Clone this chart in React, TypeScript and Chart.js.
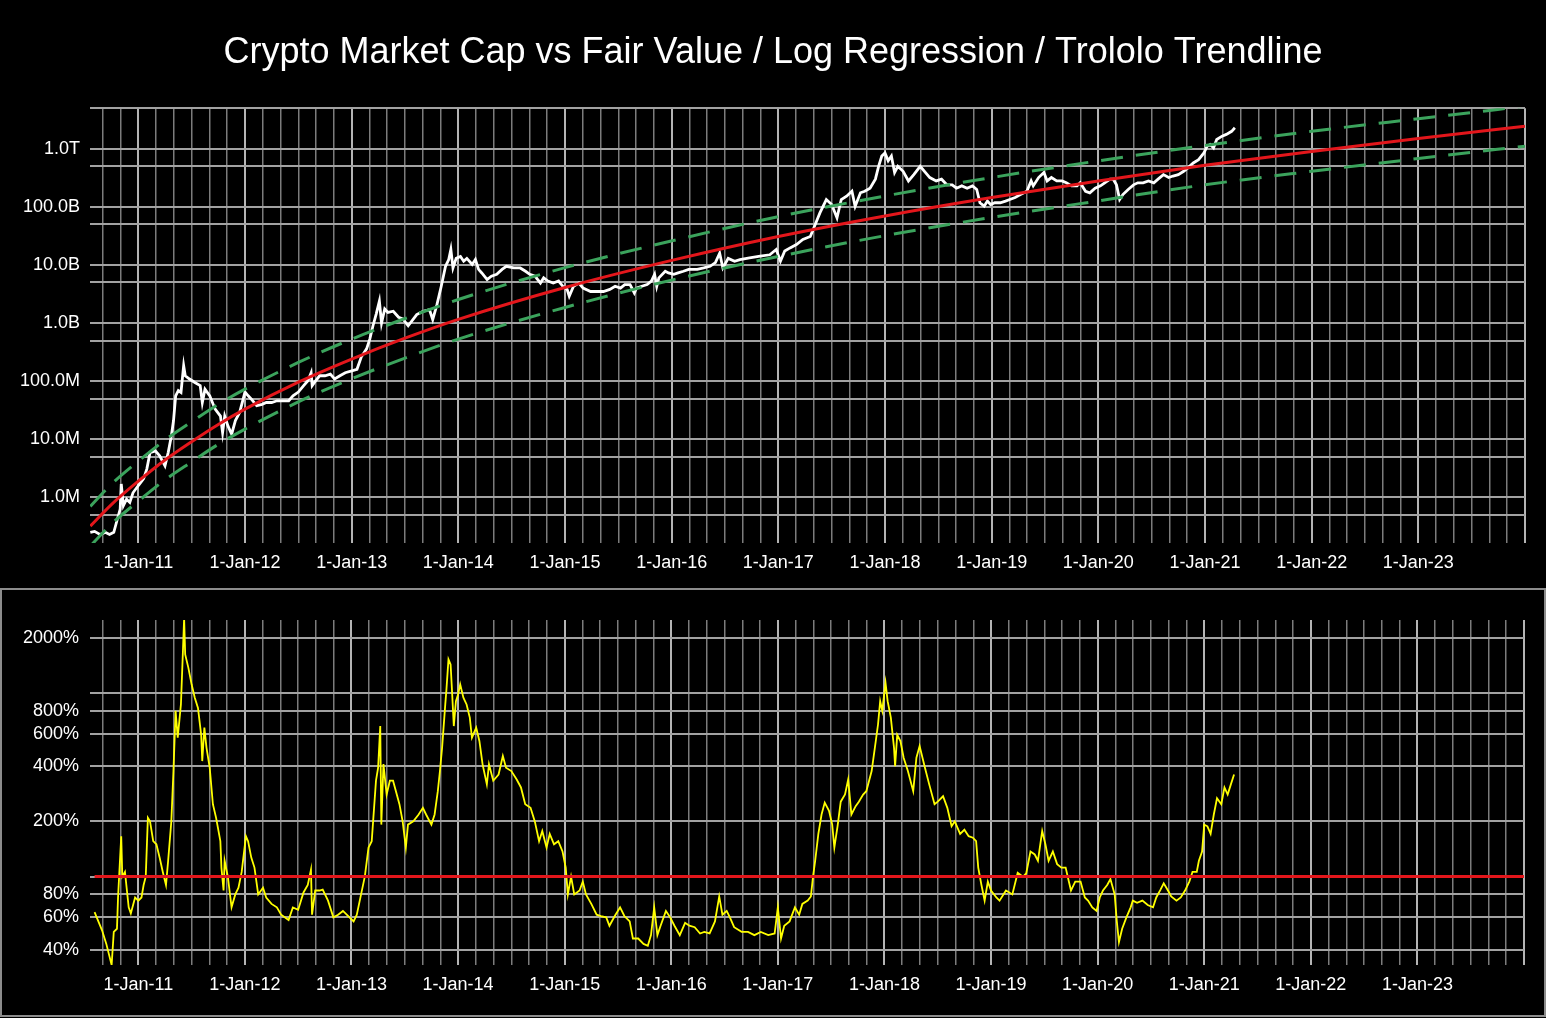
import { useEffect, useRef } from 'react';
import { Chart, registerables } from 'chart.js';

Chart.register(...registerables);

// x values are decimal years (2013.5 = start of July 2013)
const X_MIN = 2010.547;
const X_MAX = 2024;

// total crypto market cap, USD
const marketCap: [number, number][] = [
  [2010.55, 2.5e5], [2010.59, 2.6e5], [2010.64, 2.3e5], [2010.69, 2.5e5], [2010.73, 2.3e5],
  [2010.77, 2.5e5], [2010.8, 4.0e5], [2010.83, 6.3e5], [2010.84, 1.7e6], [2010.86, 7.2e5],
  [2010.89, 9.3e5], [2010.92, 8.2e5], [2010.95, 1.2e6], [2011.0, 1.6e6], [2011.05, 2.1e6],
  [2011.08, 3.1e6], [2011.11, 5.9e6], [2011.16, 6.3e6], [2011.2, 5.2e6], [2011.25, 3.5e6],
  [2011.28, 5.9e6], [2011.31, 1.15e7], [2011.33, 2.1e7], [2011.35, 5.6e7], [2011.375, 6.9e7],
  [2011.4, 6.4e7], [2011.425, 1.85e8], [2011.44, 1.24e8], [2011.48, 1.09e8], [2011.53, 9.5e7],
  [2011.58, 8.4e7], [2011.6, 4.3e7], [2011.625, 7.3e7], [2011.67, 5.6e7], [2011.72, 3.3e7],
  [2011.77, 2.5e7], [2011.79, 1.3e7], [2011.81, 2.5e7], [2011.84, 1.7e7], [2011.875, 1.23e7],
  [2011.91, 2.1e7], [2011.95, 2.9e7], [2012.0, 6.5e7], [2012.03, 5.6e7], [2012.06, 4.9e7],
  [2012.11, 3.8e7], [2012.16, 4.0e7], [2012.2, 4.3e7], [2012.25, 4.3e7], [2012.3, 4.6e7],
  [2012.34, 4.6e7], [2012.41, 4.6e7], [2012.45, 5.6e7], [2012.5, 6.5e7], [2012.55, 8.4e7],
  [2012.59, 1.02e8], [2012.62, 1.4e8], [2012.63, 8.4e7], [2012.66, 1.0e8], [2012.7, 1.24e8],
  [2012.75, 1.24e8], [2012.8, 1.32e8], [2012.84, 1.09e8], [2012.89, 1.24e8], [2012.94, 1.4e8],
  [2013.0, 1.5e8], [2013.05, 1.6e8], [2013.09, 2.6e8], [2013.14, 3.6e8], [2013.17, 5.3e8],
  [2013.2, 9.0e8], [2013.23, 1.43e9], [2013.26, 2.4e9], [2013.28, 1.0e9], [2013.31, 1.75e9],
  [2013.34, 1.53e9], [2013.39, 1.6e9], [2013.44, 1.26e9], [2013.48, 1.18e9], [2013.53, 9.0e8],
  [2013.61, 1.4e9], [2013.67, 1.6e9], [2013.73, 1.7e9], [2013.76, 1.15e9], [2013.8, 2.1e9],
  [2013.84, 4.3e9], [2013.88, 9.5e9], [2013.91, 1.24e10], [2013.93, 1.85e10], [2013.95, 8.9e9],
  [2013.98, 1.3e10], [2014.02, 1.4e10], [2014.05, 1.16e10], [2014.08, 1.3e10], [2014.13, 1.02e10],
  [2014.16, 1.24e10], [2014.19, 8.4e9], [2014.22, 7.3e9], [2014.27, 5.6e9], [2014.31, 6.4e9],
  [2014.36, 6.9e9], [2014.41, 8.4e9], [2014.45, 9.5e9], [2014.52, 8.9e9], [2014.58, 8.9e9],
  [2014.63, 7.8e9], [2014.67, 6.9e9], [2014.72, 6.4e9], [2014.77, 4.9e9], [2014.8, 6.0e9],
  [2014.84, 5.3e9], [2014.89, 4.9e9], [2014.94, 5.3e9], [2014.98, 4.3e9], [2015.02, 3.8e9],
  [2015.04, 2.9e9], [2015.08, 4.3e9], [2015.13, 4.9e9], [2015.17, 4.0e9], [2015.24, 3.5e9],
  [2015.3, 3.5e9], [2015.36, 3.5e9], [2015.42, 3.8e9], [2015.47, 4.3e9], [2015.52, 4.0e9],
  [2015.56, 4.6e9], [2015.61, 4.6e9], [2015.65, 3.3e9], [2015.67, 4.0e9], [2015.72, 4.3e9],
  [2015.77, 4.6e9], [2015.81, 5.3e9], [2015.84, 6.9e9], [2015.86, 4.3e9], [2015.88, 6.0e9],
  [2015.94, 7.8e9], [2015.97, 7.3e9], [2016.02, 6.9e9], [2016.06, 7.3e9], [2016.11, 7.8e9],
  [2016.16, 8.4e9], [2016.24, 8.4e9], [2016.3, 8.9e9], [2016.36, 9.5e9], [2016.41, 1.1e10],
  [2016.45, 1.6e10], [2016.48, 8.9e9], [2016.53, 1.3e10], [2016.59, 1.16e10], [2016.64, 1.24e10],
  [2016.73, 1.33e10], [2016.83, 1.42e10], [2016.92, 1.5e10], [2016.98, 1.85e10], [2017.02, 1.16e10],
  [2017.06, 1.74e10], [2017.11, 1.97e10], [2017.17, 2.25e10], [2017.23, 2.75e10], [2017.3, 3.1e10],
  [2017.34, 4.7e10], [2017.39, 7.9e10], [2017.45, 1.34e11], [2017.5, 1.1e11], [2017.55, 6.5e10],
  [2017.59, 1.34e11], [2017.64, 1.53e11], [2017.69, 1.86e11], [2017.72, 1.02e11], [2017.77, 1.75e11],
  [2017.81, 1.86e11], [2017.86, 2.1e11], [2017.91, 3.0e11], [2017.94, 5.0e11], [2017.97, 7.5e11],
  [2018.0, 8.5e11], [2018.03, 6.2e11], [2018.06, 7.5e11], [2018.09, 3.9e11], [2018.12, 5.0e11],
  [2018.17, 4.1e11], [2018.22, 2.8e11], [2018.27, 3.6e11], [2018.33, 5.0e11], [2018.38, 3.9e11],
  [2018.42, 3.2e11], [2018.48, 2.8e11], [2018.53, 3.0e11], [2018.58, 2.4e11], [2018.63, 2.4e11],
  [2018.67, 2.1e11], [2018.72, 2.3e11], [2018.77, 2.1e11], [2018.82, 2.3e11], [2018.86, 2.0e11],
  [2018.89, 1.18e11], [2018.93, 1.03e11], [2018.96, 1.26e11], [2018.99, 1.1e11], [2019.03, 1.18e11],
  [2019.08, 1.18e11], [2019.13, 1.26e11], [2019.17, 1.34e11], [2019.22, 1.45e11], [2019.27, 1.63e11],
  [2019.33, 1.86e11], [2019.37, 2.8e11], [2019.39, 2.3e11], [2019.44, 3.2e11], [2019.49, 3.9e11],
  [2019.52, 2.8e11], [2019.56, 3.2e11], [2019.61, 2.8e11], [2019.66, 2.8e11], [2019.7, 2.6e11],
  [2019.75, 2.3e11], [2019.8, 2.3e11], [2019.83, 2.6e11], [2019.88, 1.86e11], [2019.92, 1.75e11],
  [2019.97, 2.1e11], [2020.02, 2.3e11], [2020.06, 2.6e11], [2020.11, 3.0e11], [2020.14, 3.0e11],
  [2020.17, 2.4e11], [2020.2, 1.34e11], [2020.23, 1.63e11], [2020.28, 2.0e11], [2020.33, 2.4e11],
  [2020.37, 2.6e11], [2020.42, 2.6e11], [2020.47, 2.8e11], [2020.52, 2.6e11], [2020.56, 3.0e11],
  [2020.61, 3.6e11], [2020.66, 3.2e11], [2020.7, 3.4e11], [2020.75, 3.6e11], [2020.8, 4.1e11],
  [2020.84, 4.7e11], [2020.89, 5.7e11], [2020.94, 6.5e11], [2020.99, 8.5e11], [2021.02, 1.11e12],
  [2021.05, 1.19e12], [2021.08, 1.04e12], [2021.11, 1.45e12], [2021.16, 1.65e12], [2021.2, 1.77e12],
  [2021.25, 2.0e12], [2021.28, 2.3e12],
];

// market cap as % of fair value
const fairValueRatio: [number, number][] = [
  [2010.59, 64], [2010.61, 60], [2010.66, 51], [2010.7, 43], [2010.75, 33], [2010.77, 50],
  [2010.8, 52], [2010.81, 77], [2010.84, 166], [2010.85, 100], [2010.875, 106], [2010.91, 68],
  [2010.93, 63], [2010.97, 77], [2011.0, 74], [2011.03, 77], [2011.05, 90], [2011.07, 100],
  [2011.09, 209], [2011.11, 200], [2011.14, 156], [2011.17, 150], [2011.2, 127], [2011.23, 106],
  [2011.26, 90], [2011.28, 122], [2011.31, 200], [2011.33, 376], [2011.35, 800], [2011.37, 571],
  [2011.4, 867], [2011.42, 1764], [2011.43, 2550], [2011.44, 1622], [2011.47, 1372], [2011.5, 1116],
  [2011.53, 944], [2011.56, 830], [2011.59, 592], [2011.6, 426], [2011.62, 648], [2011.64, 503],
  [2011.67, 392], [2011.7, 248], [2011.73, 209], [2011.77, 156], [2011.78, 112], [2011.8, 84],
  [2011.81, 122], [2011.84, 100], [2011.875, 68], [2011.91, 80], [2011.94, 87], [2011.97, 106],
  [2012.01, 166], [2012.03, 156], [2012.06, 127], [2012.09, 112], [2012.125, 80], [2012.17, 87],
  [2012.2, 77], [2012.25, 71], [2012.3, 68], [2012.34, 62], [2012.41, 58], [2012.45, 68],
  [2012.5, 66], [2012.55, 82], [2012.59, 90], [2012.62, 109], [2012.63, 62], [2012.66, 84],
  [2012.7, 84], [2012.73, 85], [2012.78, 74], [2012.83, 60], [2012.875, 62], [2012.92, 65],
  [2012.97, 61], [2013.02, 57], [2013.05, 62], [2013.09, 80], [2013.125, 100], [2013.16, 144],
  [2013.19, 156], [2013.21, 228], [2013.23, 333], [2013.25, 392], [2013.27, 661], [2013.28, 192],
  [2013.3, 410], [2013.33, 280], [2013.36, 333], [2013.39, 333], [2013.45, 248], [2013.48, 200],
  [2013.51, 144], [2013.53, 192], [2013.58, 200], [2013.63, 218], [2013.67, 237], [2013.7, 218],
  [2013.75, 192], [2013.78, 218], [2013.81, 292], [2013.83, 376], [2013.85, 503], [2013.88, 867],
  [2013.89, 1027], [2013.91, 1524], [2013.93, 1430], [2013.94, 1116], [2013.96, 661], [2013.98, 903],
  [2014.0, 982], [2014.02, 1116], [2014.05, 944], [2014.08, 867], [2014.11, 735], [2014.13, 571],
  [2014.17, 648], [2014.2, 548], [2014.23, 409], [2014.27, 318], [2014.29, 409], [2014.33, 333],
  [2014.38, 360], [2014.42, 454], [2014.45, 392], [2014.5, 376], [2014.55, 338], [2014.59, 306],
  [2014.63, 248], [2014.68, 237], [2014.72, 200], [2014.76, 156], [2014.79, 177], [2014.83, 144],
  [2014.86, 171], [2014.9, 150], [2014.94, 156], [2014.98, 137], [2015.01, 112], [2015.03, 80],
  [2015.06, 100], [2015.09, 80], [2015.14, 84], [2015.17, 94], [2015.2, 80], [2015.25, 71],
  [2015.3, 62], [2015.34, 61], [2015.39, 60], [2015.42, 54], [2015.47, 61], [2015.52, 68],
  [2015.56, 61], [2015.61, 57], [2015.64, 46], [2015.69, 46], [2015.74, 43], [2015.78, 42],
  [2015.81, 48], [2015.84, 68], [2015.87, 48], [2015.9, 54], [2015.95, 65], [2015.99, 60],
  [2016.03, 54], [2016.08, 48], [2016.13, 56], [2016.17, 54], [2016.22, 53], [2016.27, 49],
  [2016.31, 50], [2016.36, 49], [2016.41, 57], [2016.45, 78], [2016.48, 62], [2016.52, 65],
  [2016.55, 60], [2016.59, 53], [2016.66, 50], [2016.72, 50], [2016.78, 48], [2016.84, 50],
  [2016.91, 48], [2016.97, 49], [2017.0, 68], [2017.03, 46], [2017.06, 54], [2017.11, 57],
  [2017.16, 68], [2017.2, 62], [2017.23, 71], [2017.28, 74], [2017.31, 78], [2017.33, 100],
  [2017.35, 122], [2017.38, 171], [2017.41, 218], [2017.44, 253], [2017.48, 228], [2017.51, 192],
  [2017.53, 144], [2017.56, 188], [2017.59, 256], [2017.63, 280], [2017.66, 338], [2017.69, 218],
  [2017.73, 242], [2017.76, 256], [2017.8, 280], [2017.83, 292], [2017.88, 376], [2017.91, 503],
  [2017.94, 676], [2017.96, 903], [2017.98, 800], [2018.01, 1138], [2018.03, 903], [2018.06, 735],
  [2018.09, 503], [2018.1, 400], [2018.12, 592], [2018.15, 548], [2018.18, 444], [2018.22, 376],
  [2018.27, 292], [2018.3, 444], [2018.33, 514], [2018.38, 392], [2018.42, 318], [2018.47, 248],
  [2018.5, 256], [2018.55, 274], [2018.59, 237], [2018.63, 188], [2018.66, 200], [2018.71, 171],
  [2018.75, 180], [2018.79, 166], [2018.83, 163], [2018.86, 156], [2018.88, 112], [2018.91, 90],
  [2018.94, 74], [2018.97, 94], [2019.0, 84], [2019.05, 77], [2019.08, 74], [2019.14, 84],
  [2019.2, 80], [2019.25, 105], [2019.3, 100], [2019.33, 104], [2019.37, 137], [2019.41, 132],
  [2019.44, 122], [2019.48, 177], [2019.51, 150], [2019.54, 122], [2019.58, 137], [2019.62, 117],
  [2019.66, 112], [2019.7, 112], [2019.73, 94], [2019.75, 84], [2019.79, 94], [2019.84, 94],
  [2019.88, 77], [2019.91, 74], [2019.95, 68], [2019.99, 65], [2020.02, 77], [2020.05, 84],
  [2020.09, 90], [2020.12, 97], [2020.16, 80], [2020.18, 57], [2020.2, 44], [2020.23, 52],
  [2020.27, 60], [2020.31, 68], [2020.33, 74], [2020.37, 72], [2020.42, 74], [2020.47, 70],
  [2020.52, 68], [2020.55, 77], [2020.59, 85], [2020.62, 92], [2020.66, 84], [2020.69, 78],
  [2020.74, 74], [2020.78, 77], [2020.82, 84], [2020.86, 94], [2020.89, 106], [2020.93, 106],
  [2020.95, 122], [2020.98, 137], [2021.0, 192], [2021.03, 188], [2021.06, 171], [2021.09, 218],
  [2021.12, 267], [2021.16, 248], [2021.19, 306], [2021.22, 280], [2021.25, 318], [2021.28, 360],
];

// log regression fair value and its band
const fitYears = [
  2010.55, 2010.75, 2011, 2011.25, 2011.5, 2011.75, 2012, 2012.5, 2013, 2013.5, 2014,
  2015, 2016, 2017, 2018, 2019, 2020, 2021, 2022, 2023, 2024,
];
const fairValue = [
  3.2e5, 7.6e5, 1.9e6, 4.4e6, 9.1e6, 1.8e7, 3.3e7, 9.6e7, 2.4e8, 5.5e8, 1.16e9,
  4.1e9, 1.2e10, 3.1e10, 7.0e10, 1.45e11, 2.8e11, 5.2e11, 9.0e11, 1.5e12, 2.45e12,
];
const upperBand = [
  7.0e5, 1.7e6, 4.2e6, 9.7e6, 2.0e7, 4.0e7, 7.3e7, 2.1e8, 5.3e8, 1.2e9, 2.55e9,
  9.0e9, 2.6e10, 6.8e10, 1.54e11, 3.2e11, 6.2e11, 1.14e12, 2.0e12, 3.3e12, 5.4e12,
];
const lowerBand = [
  1.45e5, 3.5e5, 8.6e5, 2.0e6, 4.1e6, 8.2e6, 1.5e7, 4.4e7, 1.1e8, 2.5e8, 5.3e8,
  1.86e9, 5.5e9, 1.4e10, 3.2e10, 6.6e10, 1.27e11, 2.4e11, 4.1e11, 6.8e11, 1.11e12,
];
const parYears = [2010.59, 2024];
const parLevel = [100, 100];

// axis ticks
const capGrid = [5e5, 1e6, 5e6, 1e7, 5e7, 1e8, 5e8, 1e9, 5e9, 1e10, 5e10, 1e11, 5e11, 1e12, 5e12];
const capLabelValues = [1e6, 1e7, 1e8, 1e9, 1e10, 1e11, 1e12];
const capLabels = ['1.0M', '10.0M', '100.0M', '1.0B', '10.0B', '100.0B', '1.0T'];
const ratioGrid = [40, 60, 80, 100, 200, 400, 600, 800, 1000, 2000];
const ratioLabels = ['40%', '60%', '80%', '', '200%', '400%', '600%', '800%', '', '2000%'];
const labelYears = [2011, 2012, 2013, 2014, 2015, 2016, 2017, 2018, 2019, 2020, 2021, 2022, 2023];

// gridlines every two months
const monthGrid: number[] = [];
for (let y = 2010; y <= 2024; y++) {
  for (let k = 0; k < 6; k++) {
    const v = y + k / 6;
    if (v >= X_MIN && v <= X_MAX) monthGrid.push(v);
  }
}

const RED = '#e3161b';
const GREEN = '#3ba35c';
const FONT = "'Liberation Sans', Arial, Helvetica, sans-serif";

const xy = (xs: number[], ys: number[]) => xs.map((x, i) => ({ x, y: ys[i] }));
const pairs = (p: [number, number][]) => p.map(([x, y]) => ({ x, y }));

function yearAxis(): any {
  return {
    type: 'linear',
    min: X_MIN,
    max: X_MAX,
    afterBuildTicks: (s: any) => {
      s.ticks = monthGrid.map((v) => ({ value: v }));
    },
    afterFit: (s: any) => {
      s.height = 37;
    },
    border: { display: false },
    grid: {
      drawTicks: false,
      color: (c: any) => (Number.isInteger(c.tick?.value) ? '#b4b4b4' : '#7c7c7c'),
      lineWidth: (c: any) => (Number.isInteger(c.tick?.value) ? 2 : 1.5),
    },
    ticks: {
      color: '#fff',
      font: { size: 18, family: FONT },
      padding: 9,
      autoSkip: false,
      maxRotation: 0,
      minRotation: 0,
      callback: (v: number) => (labelYears.includes(v) ? `1-Jan-${String(v).slice(2)}` : ''),
    },
  };
}

export default function App() {
  const topRef = useRef<HTMLCanvasElement>(null);
  const bottomRef = useRef<HTMLCanvasElement>(null);

  useEffect(() => {
    document.body.style.margin = '0';
    document.body.style.background = '#000';
    if (!topRef.current || !bottomRef.current) return;

    const line = { pointRadius: 0, fill: false };

    const top = new Chart(topRef.current, {
      type: 'line',
      data: {
        datasets: [
          { ...line, label: 'Fair value', data: xy(fitYears, fairValue), borderColor: RED, borderWidth: 3, cubicInterpolationMode: 'monotone', order: 0 },
          { ...line, label: 'Upper', data: xy(fitYears, upperBand), borderColor: GREEN, borderWidth: 3, borderDash: [22, 13], cubicInterpolationMode: 'monotone', order: 1 },
          { ...line, label: 'Lower', data: xy(fitYears, lowerBand), borderColor: GREEN, borderWidth: 3, borderDash: [22, 13], cubicInterpolationMode: 'monotone', order: 1 },
          { ...line, label: 'Market cap', data: pairs(marketCap), borderColor: '#fff', borderWidth: 2.8, tension: 0, order: 2 },
        ] as any,
      },
      options: {
        responsive: false,
        animation: false,
        // equal side padding keeps the title centred on the page
        layout: { padding: { left: 21, right: 21, top: 0, bottom: 0 } },
        plugins: {
          legend: { display: false },
          tooltip: { enabled: false },
          title: {
            display: true,
            text: 'Crypto Market Cap vs Fair Value / Log Regression / Trololo Trendline',
            color: '#fff',
            font: { size: 36, weight: 'normal', family: FONT, lineHeight: 1.2 },
            padding: { top: 31, bottom: 34 },
          },
        },
        scales: {
          x: yearAxis(),
          y: {
            type: 'logarithmic',
            min: 1.64e5,
            max: 5e12,
            afterBuildTicks: (s: any) => {
              s.ticks = capGrid.map((v) => ({ value: v }));
            },
            afterFit: (s: any) => {
              s.width = 69;
            },
            border: { display: false },
            grid: { drawTicks: false, color: '#a2a2a2', lineWidth: 2 },
            ticks: {
              color: '#fff',
              font: { size: 18, family: FONT },
              padding: 10,
              autoSkip: false,
              callback: (v: any) => {
                const i = capLabelValues.indexOf(v);
                return i >= 0 ? capLabels[i] : '';
              },
            },
          },
        },
      } as any,
    });

    const bottom = new Chart(bottomRef.current, {
      type: 'line',
      data: {
        datasets: [
          { ...line, label: '100%', data: xy(parYears, parLevel), borderColor: RED, borderWidth: 3, order: 0 },
          { ...line, label: 'Ratio', data: pairs(fairValueRatio), borderColor: '#ffff00', borderWidth: 1.8, tension: 0, order: 1 },
        ] as any,
      },
      options: {
        responsive: false,
        animation: false,
        layout: { padding: { left: 0, right: 22, top: 32, bottom: 16 } },
        plugins: { legend: { display: false }, tooltip: { enabled: false } },
        scales: {
          x: yearAxis(),
          y: {
            type: 'logarithmic',
            min: 33,
            max: 2500,
            afterBuildTicks: (s: any) => {
              s.ticks = ratioGrid.map((v) => ({ value: v }));
            },
            afterFit: (s: any) => {
              s.width = 90;
            },
            border: { display: false },
            grid: { drawTicks: false, color: '#a2a2a2', lineWidth: 2 },
            ticks: {
              color: '#fff',
              font: { size: 18, family: FONT },
              padding: 11,
              autoSkip: false,
              callback: (v: any) => {
                const i = ratioGrid.indexOf(v);
                return i >= 0 ? ratioLabels[i] : '';
              },
            },
          },
        },
      } as any,
    });

    return () => {
      top.destroy();
      bottom.destroy();
    };
  }, []);

  return (
    <div style={{ position: 'relative', width: 1546, height: 1018, background: '#000', overflow: 'hidden' }}>
      <canvas ref={topRef} width={1546} height={580} style={{ position: 'absolute', left: 0, top: 0 }} />
      <canvas ref={bottomRef} width={1546} height={430} style={{ position: 'absolute', left: 0, top: 588 }} />
      <div
        style={{
          position: 'absolute',
          left: 0,
          top: 588,
          width: 1546,
          height: 429,
          border: '2px solid #8c8c8c',
          boxSizing: 'border-box',
          pointerEvents: 'none',
        }}
      />
    </div>
  );
}
